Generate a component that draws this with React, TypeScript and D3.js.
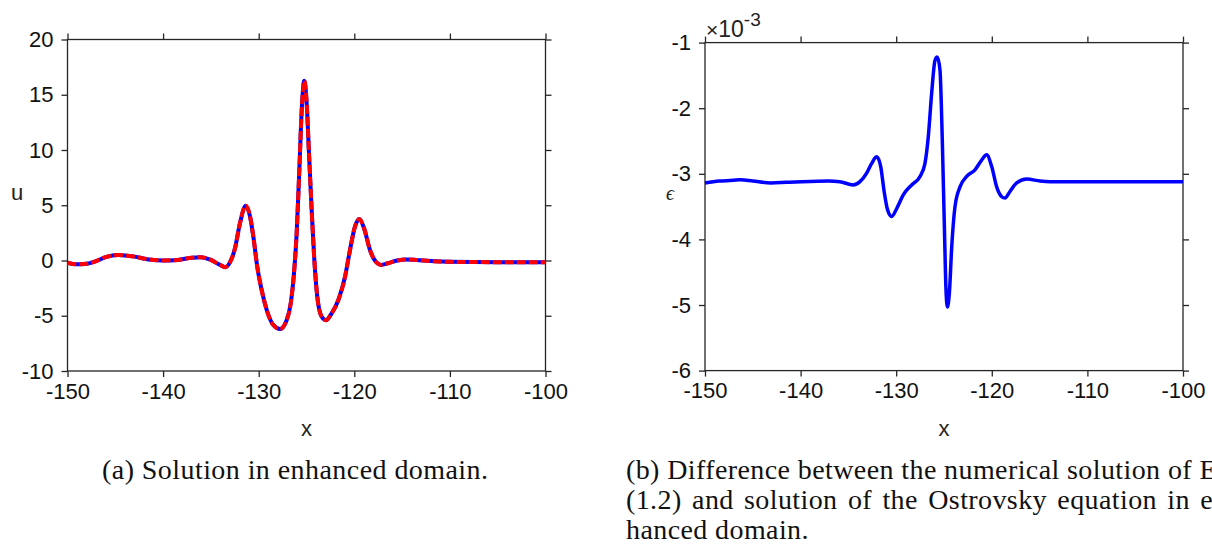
import React, { useEffect, useRef } from 'react';
import * as d3 from 'd3';

// left panel: u(x), numerical (blue) and Ostrovsky (red dashed)
const uX = [-150, -149, -148, -147, -146, -144.7, -143, -141.5, -140, -138.5, -137, -136.1, -135, -134.05, -133.5, -133.0, -132.48, -131.96, -131.36, -130.9, -130.56, -130.15, -129.69, -129.16, -128.47, -127.77, -127.07, -126.65, -126.31, -126.03, -125.75, -125.5, -125.23, -124.98, -124.74, -124.46, -124.18, -123.87, -123.41, -122.96, -122.37, -121.67, -120.97, -120.45, -119.93, -119.48, -118.98, -118.36, -117.66, -117.2, -116.5, -115.5, -114.6, -113.5, -112, -110, -105, -100];
const uY = [-0.2, -0.35, -0.3, -0.05, 0.3, 0.5, 0.35, 0.1, 0.0, 0.05, 0.25, 0.3, 0.05, -0.4, -0.6, -0.15, 1.1, 3.37, 4.96, 3.96, 2.15, -0.56, -2.67, -4.48, -5.84, -6.2, -5.38, -3.87, -1.16, 2.46, 8.19, 13.62, 16.27, 14.2, 9.7, 4.57, 0.04, -3.28, -5.09, -5.4, -4.78, -3.57, -1.47, 0.95, 3.06, 3.76, 2.92, 0.95, -0.2, -0.4, -0.25, 0.0, 0.1, 0.05, -0.05, -0.12, -0.15, -0.15];

// right panel: difference eps (x 1e-3)
const epsX = [-150, -148.5, -147.1, -146.3, -145, -143.1, -141.5, -139.9, -137.1, -135.9, -134.5, -133.79, -133.09, -132.56, -132.04, -131.62, -131.28, -130.9, -130.47, -129.95, -129.26, -128.38, -127.51, -126.99, -126.64, -126.29, -125.94, -125.7, -125.42, -125.18, -124.97, -124.79, -124.65, -124.44, -124.19, -123.85, -123.33, -122.63, -121.76, -121.06, -120.54, -120.01, -119.49, -118.96, -118.62, -118.1, -117.4, -116.35, -114.96, -113.91, -110, -105, -100];
const epsY = [-3.14, -3.11, -3.10, -3.09, -3.11, -3.14, -3.13, -3.12, -3.11, -3.12, -3.17, -3.12, -2.99, -2.84, -2.74, -2.89, -3.25, -3.55, -3.65, -3.53, -3.32, -3.17, -3.04, -2.84, -2.43, -1.77, -1.27, -1.22, -1.42, -2.48, -3.75, -4.77, -5.03, -4.82, -4.11, -3.50, -3.20, -3.04, -2.94, -2.79, -2.71, -2.89, -3.20, -3.35, -3.37, -3.27, -3.14, -3.08, -3.11, -3.12, -3.12, -3.12, -3.12];

const xTicks = [-150, -140, -130, -120, -110, -100];
const uTicks = [20, 15, 10, 5, 0, -5, -10];
const epsTicks = [-1, -2, -3, -4, -5, -6];

const captionA = '(a) Solution in enhanced domain.';
const captionB = [
  '(b) Difference between the numerical solution of Eq.',
  '(1.2) and solution of the Ostrovsky equation in en-',
  'hanced domain.',
];

const W = 1212;
const H = 546;
const AXIS = '#262626';
const SANS = '"Liberation Sans", Arial, Helvetica, sans-serif';
const SERIF = '"Liberation Serif", "Times New Roman", serif';

const App: React.FC = () => {
  const svgRef = useRef<SVGSVGElement>(null);

  useEffect(() => {
    if (!svgRef.current) return;
    const svg = d3.select(svgRef.current);
    svg.selectAll('*').remove();

    const drawPanel = (
      left: number, right: number, top: number, bottom: number,
      yDomain: [number, number], yTicks: number[],
    ) => {
      const x = d3.scaleLinear().domain([-150, -100]).range([left, right]);
      const y = d3.scaleLinear().domain(yDomain).range([bottom, top]);
      const g = svg.append('g');
      const plain = (d: any) => String(d); // hyphen minus, as in the figure

      const styleAxis = (sel: any) => {
        sel.selectAll('line').attr('stroke', AXIS).attr('stroke-width', 1.3);
        sel.selectAll('text')
          .attr('fill', '#111')
          .style('font-family', SANS)
          .style('font-size', '22px');
      };

      g.append('g').attr('transform', `translate(0,${bottom})`)
        .call(d3.axisBottom(x).tickValues(xTicks).tickSizeInner(6).tickSizeOuter(0).tickPadding(6).tickFormat(plain))
        .call(styleAxis);
      g.append('g').attr('transform', `translate(0,${top})`)
        .call(d3.axisTop(x).tickValues(xTicks).tickSizeInner(6).tickSizeOuter(0).tickFormat(() => ''))
        .call(styleAxis);
      g.append('g').attr('transform', `translate(${left},0)`)
        .call(d3.axisLeft(y).tickValues(yTicks).tickSizeInner(6).tickSizeOuter(0).tickPadding(8).tickFormat(plain))
        .call(styleAxis);
      g.append('g').attr('transform', `translate(${right},0)`)
        .call(d3.axisRight(y).tickValues(yTicks).tickSizeInner(6).tickSizeOuter(0).tickFormat(() => ''))
        .call(styleAxis);

      g.selectAll('.domain').remove();
      g.append('rect')
        .attr('x', left).attr('y', top)
        .attr('width', right - left).attr('height', bottom - top)
        .attr('fill', 'none').attr('stroke', AXIS).attr('stroke-width', 1.3);

      g.append('text')
        .attr('x', (left + right) / 2).attr('y', 436)
        .attr('text-anchor', 'middle')
        .style('font-family', SANS).style('font-size', '22px').attr('fill', '#222')
        .text('x');
      return { g, x, y };
    };

    // left panel
    const a = drawPanel(67.5, 545.5, 39.5, 371, [-10, 20], uTicks);
    const uData = uX.map((v, i) => [v, uY[i]] as [number, number]);
    const uLine = d3.line<[number, number]>()
      .x(d => a.x(d[0])).y(d => a.y(d[1]))
      .curve(d3.curveMonotoneX);
    a.g.append('path').datum(uData)
      .attr('fill', 'none').attr('stroke', '#0000ff').attr('stroke-width', 4)
      .attr('d', uLine);
    a.g.append('path').datum(uData)
      .attr('fill', 'none').attr('stroke', '#ff0000').attr('stroke-width', 4)
      .attr('stroke-dasharray', '9 3')
      .attr('d', uLine);
    a.g.append('text')
      .attr('x', 17).attr('y', 200).attr('text-anchor', 'middle')
      .style('font-family', SANS).style('font-size', '22px').attr('fill', '#222')
      .text('u');

    // right panel
    const b = drawPanel(705, 1183, 42.6, 370.6, [-6, -1], epsTicks);
    const eData = epsX.map((v, i) => [v, epsY[i]] as [number, number]);
    const eLine = d3.line<[number, number]>()
      .x(d => b.x(d[0])).y(d => b.y(d[1]))
      .curve(d3.curveMonotoneX);
    b.g.append('path').datum(eData)
      .attr('fill', 'none').attr('stroke', '#0000ff').attr('stroke-width', 3.5)
      .attr('d', eLine);
    b.g.append('text')
      .attr('x', 670).attr('y', 200).attr('text-anchor', 'middle')
      .style('font-family', SERIF).style('font-style', 'italic').style('font-size', '20px').attr('fill', '#222')
      .text('ϵ');
    const expo = b.g.append('text')
      .attr('x', 706).attr('y', 37)
      .style('font-family', SANS).style('font-size', '23px').attr('fill', '#222');
    expo.append('tspan').style('font-size', '21px').text('×');
    expo.append('tspan').text('10');
    expo.append('tspan').attr('dy', -11).style('font-size', '19px').text('-3');

    // captions
    svg.append('text')
      .attr('x', 102).attr('y', 479)
      .attr('textLength', 386).attr('lengthAdjust', 'spacing')
      .style('font-family', SERIF).style('font-size', '28px').attr('fill', '#111')
      .text(captionA);
    captionB.forEach((line, i) => {
      svg.append('text')
        .attr('x', 626).attr('y', 479 + i * 30)
        .style('font-family', SERIF).style('font-size', '28px').attr('fill', '#111')
        .style('letter-spacing', '0.4px')
        .style('word-spacing', i === 1 ? '3px' : '0px')
        .text(line);
    });
  }, []);

  return (
    <svg ref={svgRef} width={W} height={H}
      style={{ position: 'absolute', left: 0, top: 0, background: '#fff' }} />
  );
};

export default App;
